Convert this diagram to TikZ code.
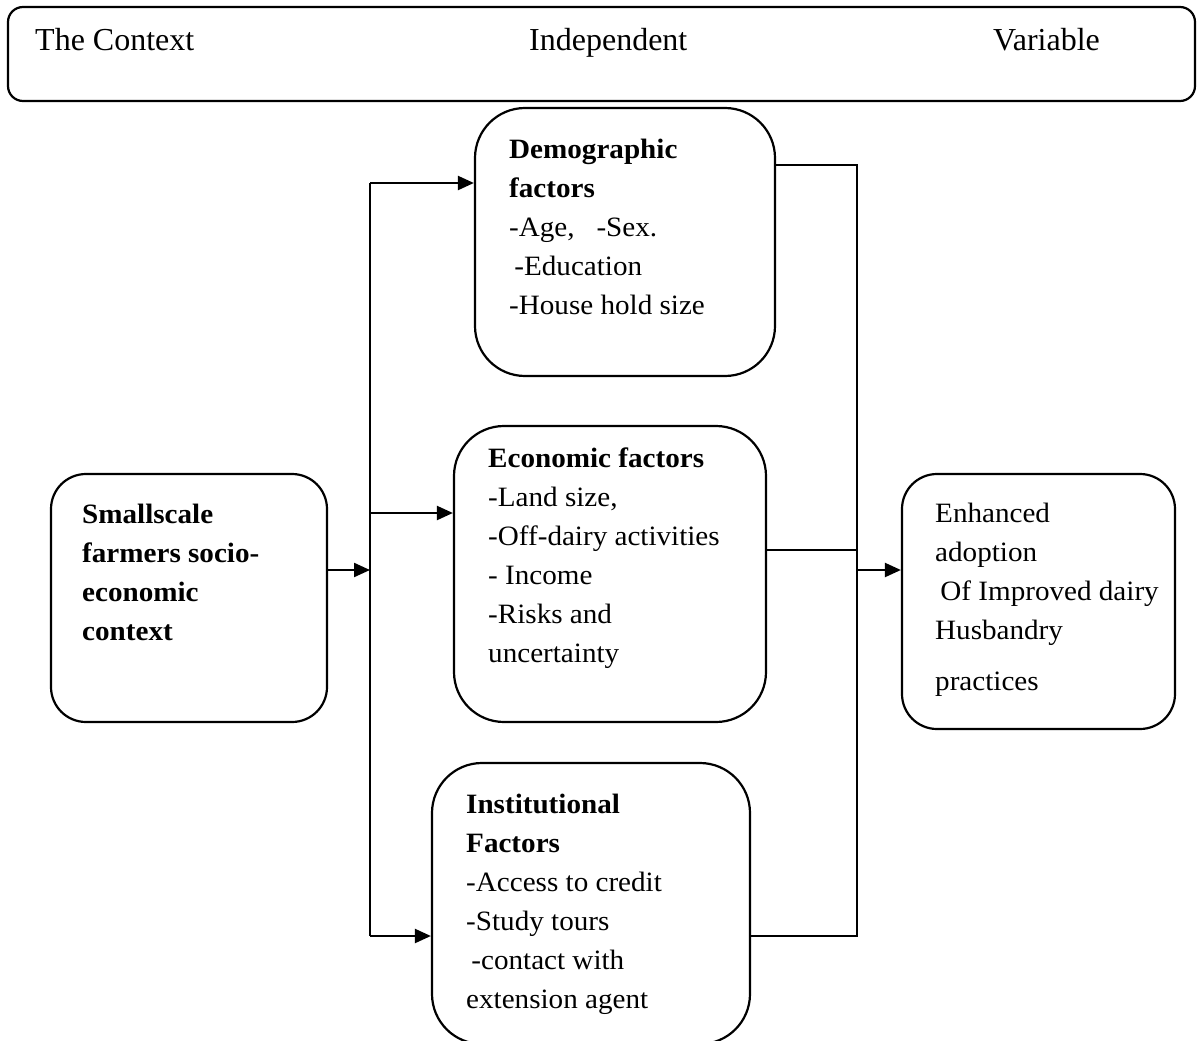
\documentclass[tikz,border=0pt]{standalone}
\usepackage{fontspec}
\setmainfont{Liberation Serif}
\usetikzlibrary{arrows.meta}
\begin{document}
\begin{tikzpicture}[x=1pt,y=-1pt,
  box/.style={draw,line width=2.2pt,rounded corners=#1,inner sep=0pt},
  box/.default=50pt,
  txt/.style={anchor=base west,inner sep=0pt,align=left,xscale=1.04,font=\fontsize{28}{39}\selectfont},
  head/.style={anchor=base west,inner sep=0pt,font=\fontsize{32}{39}\selectfont},
  conn/.style={line width=2.2pt},
  arr/.style={line width=2.2pt,-{Triangle[length=16pt,width=14pt]}}]
\useasboundingbox (0,0) rectangle (1203,1041);
\clip (0,0) rectangle (1203,1041);
\fill[white] (0,0) rectangle (1203,1041);
% boxes
\node[box=15pt,minimum width=1187pt,minimum height=94pt] (top) at (601.5,54) {};
\node[box,minimum width=300pt,minimum height=268pt] (demo) at (625,242) {};
\node[box,minimum width=312pt,minimum height=296pt] (econ) at (610,574) {};
\node[box,minimum width=318pt,minimum height=281pt] (inst) at (591,903.5) {};
\node[box=35pt,minimum width=276pt,minimum height=248pt] (src) at (189,598) {};
\node[box=35pt,minimum width=273pt,minimum height=255pt] (out) at (1038.5,601.5) {};
% texts (anchored at the baseline of the last line)
\node[head] (t1) at (35,51) {The Context};
\node[head] (t2) at (529,51) {Independent};
\node[head] (t3) at (993,51) {Variable};
\node[txt] (demotxt) at (509,314) {\textbf{Demographic}\\\textbf{factors}\\-Age,\ \ \ -Sex.\\\hspace*{5pt}-Education\\-House hold size};
\node[txt] (econtxt) at (488,662) {\textbf{Economic factors}\\-Land size,\\-Off-dairy activities\\- Income\\-Risks and\\uncertainty};
\node[txt] (insttxt) at (466,1008) {\textbf{Institutional}\\\textbf{Factors}\\-Access to credit\\-Study tours\\\hspace*{5pt}-contact with\\extension agent};
\node[txt] (srctxt) at (82,640) {\textbf{Smallscale}\\\textbf{farmers socio-}\\\textbf{economic}\\\textbf{context}};
\node[txt] (outtxt) at (935,690) {Enhanced\\adoption\\\hspace*{5pt}Of Improved dairy\\Husbandry\\[12pt]practices};
% junction coordinates
\coordinate (L1) at (370,183);
\coordinate (L2) at (370,513);
\coordinate (L3) at (370,936);
\coordinate (Lm) at (370,570);
\coordinate (R1) at (857,165);
\coordinate (R2) at (857,550);
\coordinate (R3) at (857,936);
\coordinate (Rm) at (857,570);
% connectors
\draw[arr] (src.east |- Lm) -- (Lm);
\draw[conn] (L1) -- (L3);
\draw[arr] (L1) -- (demo.west |- L1);
\draw[arr] (L2) -- (econ.west |- L2);
\draw[arr] (L3) -- (inst.west |- L3);
\draw[conn] ([xshift=-2pt]demo.east |- R1) -- (R1) -- (R3) -- (inst.east |- R3);
\draw[conn] (econ.east |- R2) -- (R2);
\draw[arr] (Rm) -- (out.west |- Rm);
\end{tikzpicture}
\end{document}
